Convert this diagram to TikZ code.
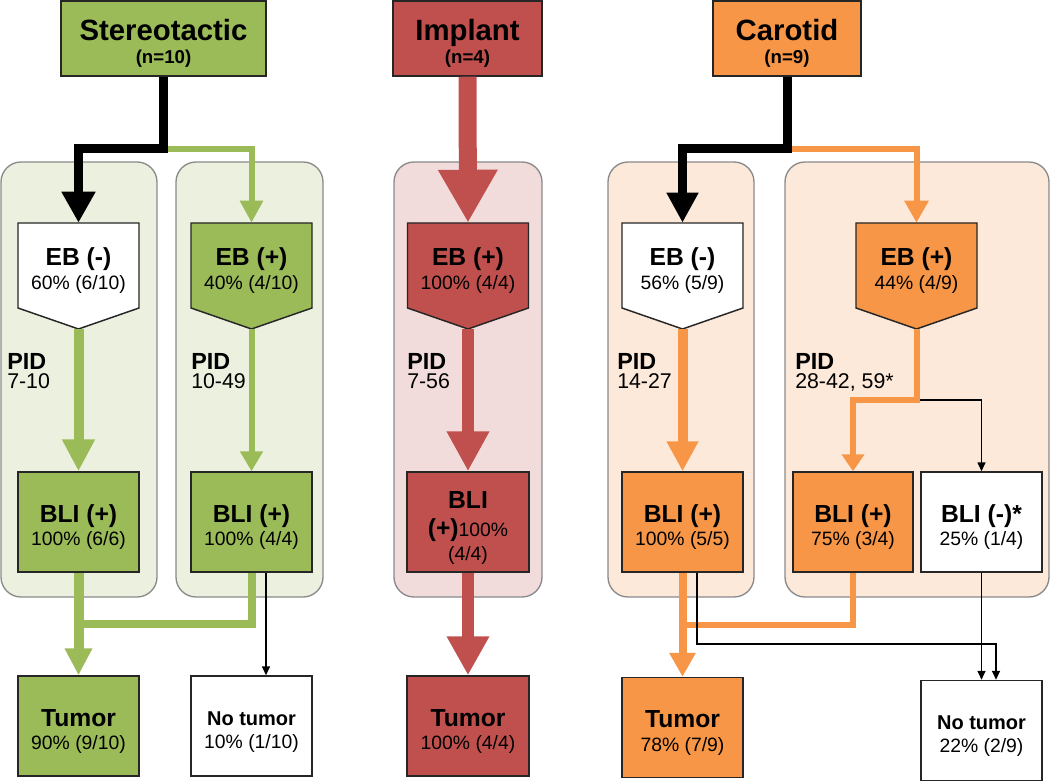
\documentclass[tikz,border=0pt]{standalone}
\usepackage{fontspec}
\setmainfont{Liberation Sans}
\usetikzlibrary{arrows.meta,calc}
\definecolor{gr}{HTML}{9BBB59}
\definecolor{grbg}{HTML}{EBF1DE}
\definecolor{rd}{HTML}{C0504D}
\definecolor{rdbg}{HTML}{F2DCDB}
\definecolor{orn}{HTML}{F79646}
\definecolor{ornbg}{HTML}{FDE9D9}
\definecolor{bgline}{HTML}{8A8A8A}
\definecolor{boxline}{HTML}{262626}
\newcommand\lbfplain[1]{{\fontsize{18.5}{17.5}\selectfont\bfseries #1}}
\newcommand\lbf[1]{{\rule{0pt}{21pt}\fontsize{18.5}{17.5}\selectfont\bfseries #1}}
\newcommand\ntlab[1]{{\rule{0pt}{19pt}\fontsize{15}{17}\selectfont\bfseries #1}}
\newcommand\ttl[1]{{\rule{0pt}{23.5pt}\fontsize{22}{17.6}\selectfont\bfseries #1}}
\newcommand\pentbox[5]{%
  \filldraw[fill=#4, draw=boxline, line width=1.1pt, line join=miter]
    (#2-60.5,#3-42.5) -- (#2+60.5,#3-42.5) -- (#2+60.5,#3+42.5) -- (#2,#3+63.5) -- (#2-60.5,#3+42.5) -- cycle;
  \node[pentin] (#1) at (#2,#3) {#5};
  \coordinate (#1-tip) at (#2,#3+63.5);
}
\begin{document}
\begin{tikzpicture}[x=0.75pt,y=-0.75pt,
  bgpanel/.style={draw=bgline, line width=1pt, rounded corners=15pt},
  boxbase/.style={draw=boxline, line width=1.1pt, minimum width=90.75pt, minimum height=75pt, inner sep=0pt, align=center, font=\fontsize{14.5}{17.5}\selectfont},
  titlebox/.style={draw=boxline, line width=1.1pt, minimum height=56.25pt, inner sep=0pt, align=center, font=\fontsize{14}{17.6}\selectfont\bfseries},
  pentin/.style={inner sep=0pt, minimum width=90.75pt, minimum height=63.75pt, align=center, font=\fontsize{14.5}{18}\selectfont},
  pidtext/.style={anchor=north west, align=left, font=\fontsize{16}{14.2}\selectfont, inner sep=0pt},
  thinarrow/.style={draw=black, line width=1.2pt, -{Triangle[length=6.75pt,width=6pt]}},
]
\useasboundingbox (0,0) rectangle (1050,781);

% background panels
\filldraw[bgpanel, fill=grbg] (1,162) rectangle (157,597);
\filldraw[bgpanel, fill=grbg] (176,162) rectangle (323,597);
\filldraw[bgpanel, fill=rdbg] (394,162) rectangle (542,597);
\filldraw[bgpanel, fill=ornbg] (608,162) rectangle (754,597);
\filldraw[bgpanel, fill=ornbg] (785,162) rectangle (1049,597);

% title boxes
\node[titlebox, fill=gr, minimum width=153.75pt] (s-t) at (163.5,38.5) {\ttl{Stereotactic}\\(n=10)};
\node[titlebox, fill=rd, minimum width=111.75pt] (i-t) at (467.5,38.5) {\ttl{Implant}\\(n=4)};
\node[titlebox, fill=orn, minimum width=111pt] (c-t) at (787,38.5) {\ttl{Carotid}\\(n=9)};

% EB pentagons
\pentbox{s-ebm}{78.5}{265.5}{white}{\lbf{EB (-)}\\60\% (6/10)}
\pentbox{s-ebp}{251.5}{265.5}{gr}{\lbf{EB (+)}\\40\% (4/10)}
\pentbox{i-eb}{468}{265.5}{rd}{\lbf{EB (+)}\\100\% (4/4)}
\pentbox{c-ebm}{682.5}{265.5}{white}{\lbf{EB (-)}\\56\% (5/9)}
\pentbox{c-ebp}{916.5}{265.5}{orn}{\lbf{EB (+)}\\44\% (4/9)}

% BLI boxes
\node[boxbase, fill=gr] (s-blim) at (78.5,522) {\lbf{BLI (+)}\\100\% (6/6)};
\node[boxbase, fill=gr] (s-blip) at (251.5,522) {\lbf{BLI (+)}\\100\% (4/4)};
\node[boxbase, fill=rd, minimum width=91.5pt] (i-bli) at (468,522) {\lbf{BLI}\\[4pt]\lbfplain{(+)}100\%\\(4/4)};
\node[boxbase, fill=orn] (c-blim) at (682.5,522) {\lbf{BLI (+)}\\100\% (5/5)};
\node[boxbase, fill=orn, minimum width=90pt] (c-bli2) at (853,522) {\lbf{BLI (+)}\\75\% (3/4)};
\node[boxbase, fill=white] (c-blin) at (981.5,522) {\lbf{BLI (-)*}\\25\% (1/4)};

% outcome boxes
\node[boxbase, fill=gr] (s-tum) at (78.5,726) {\lbf{Tumor}\\90\% (9/10)};
\node[boxbase, fill=white] (s-nt) at (251.5,726) {\ntlab{No tumor}\\10\% (1/10)};
\node[boxbase, fill=rd, minimum width=91.5pt] (i-tum) at (468,726) {\lbf{Tumor}\\100\% (4/4)};
\node[boxbase, fill=orn] (c-tum) at (682.5,727.5) {\lbf{Tumor}\\78\% (7/9)};
\node[boxbase, fill=white] (c-nt) at (981.5,730.5) {\ntlab{No tumor}\\22\% (2/9)};

% PID labels
\node[pidtext] (s-pid1) at (7,353.3) {{\fontsize{17.5}{14}\selectfont\bfseries PID}\\7-10};
\node[pidtext] (s-pid2) at (191,353.3) {{\fontsize{17.5}{14}\selectfont\bfseries PID}\\10-49};
\node[pidtext] (i-pid) at (407,353.3) {{\fontsize{17.5}{14}\selectfont\bfseries PID}\\7-56};
\node[pidtext] (c-pid1) at (617,353.3) {{\fontsize{17.5}{14}\selectfont\bfseries PID}\\14-27};
\node[pidtext] (c-pid2) at (795,353.3) {{\fontsize{17.5}{14}\selectfont\bfseries PID}\\28-42, 59*};

% ---- Stereotactic connectors
\coordinate (s-j) at (163.5,149);
\draw[gr, line width=4.5pt, -{Triangle[length=16.5pt,width=16.5pt]}] (s-j) -| (s-ebp.north);
\draw[black, line width=6.75pt, -{Triangle[length=23.25pt,width=24pt]}] (s-t.south) -- (s-j) -| (s-ebm.north);
\draw[gr, line width=7.5pt, -{Triangle[length=24pt,width=23.25pt]}] (s-ebm-tip) -- (s-blim.north);
\draw[gr, line width=4.5pt, -{Triangle[length=15pt,width=16.5pt]}] (s-ebp-tip) -- (s-blip.north);
\coordinate (s-jb) at (78.5,624);
\draw[gr, line width=6pt] (s-blip.south) |- (s-jb);
\draw[gr, line width=7.5pt, -{Triangle[length=20.25pt,width=19.5pt]}] (s-blim.south) -- (s-tum.north);
\draw[thinarrow] ($(s-blip.south)+(14.5,0)$) -- ($(s-nt.north)+(14.5,0)$);

% ---- Implant connectors
\draw[rd, line width=13.5pt, -{Triangle[length=39.75pt,width=42pt]}] (i-t.south) -- (i-eb.north);
\draw[rd, line width=9pt, -{Triangle[length=30pt,width=30pt]}] (i-eb-tip) -- (i-bli.north);
\draw[rd, line width=9pt, -{Triangle[length=29.25pt,width=30pt]}] (i-bli.south) -- (i-tum.north);

% ---- Carotid connectors
\coordinate (c-j) at (787,149);
\draw[orn, line width=4.5pt, -{Triangle[length=16.5pt,width=17.25pt]}] (c-j) -| (c-ebp.north);
\draw[black, line width=6.75pt, -{Triangle[length=22.5pt,width=22.5pt]}] (c-t.south) -- (c-j) -| (c-ebm.north);
\draw[orn, line width=7.5pt, -{Triangle[length=22.5pt,width=22.5pt]}] (c-ebm-tip) -- (c-blim.north);
\coordinate (c-j2) at (916.5,400);
\draw[thinarrow] (c-j2) -| (c-blin.north);
\draw[orn, line width=4.5pt, -{Triangle[length=12.75pt,width=16.5pt]}] (c-ebp-tip) -- (c-j2) -| (c-bli2.north);
\coordinate (c-jb) at (682.5,625);
\draw[orn, line width=4.5pt] (c-bli2.south) |- (c-jb);
\draw[orn, line width=6pt, -{Triangle[length=18pt,width=18.75pt]}] (c-blim.south) -- (c-tum.north);
\draw[thinarrow] ($(c-blim.south)+(14.5,0)$) |- ($(c-nt.north)+(14.5,-36)$) -- ($(c-nt.north)+(14.5,0)$);
\draw[thinarrow] (c-blin.south) -- (c-nt.north);
\end{tikzpicture}
\end{document}
